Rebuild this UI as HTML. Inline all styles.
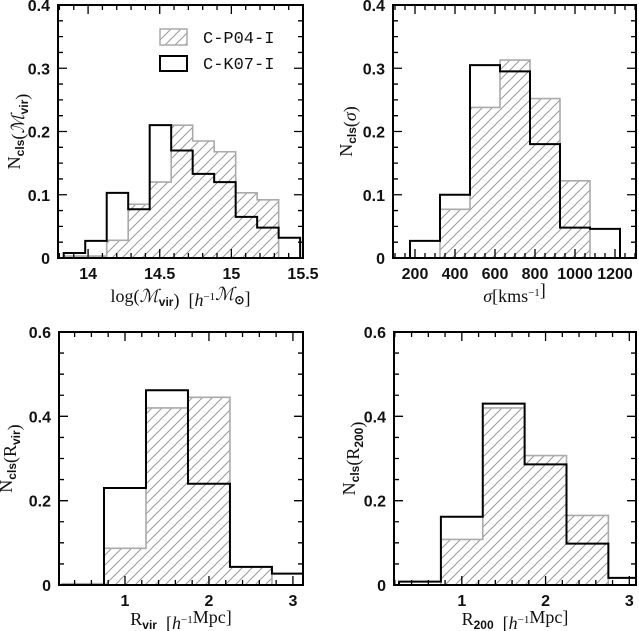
<!DOCTYPE html>
<html><head><meta charset="utf-8"><style>
html,body{margin:0;padding:0;background:#fff}
svg{display:block}
.tick{font-family:"Liberation Sans",sans-serif;font-size:16px;font-weight:bold;fill:#111}
.title{font-family:"Liberation Serif",serif;font-size:18px;fill:#111}
.leg{font-family:"Liberation Mono",monospace;font-size:17px;fill:#111}
</style></head><body>
<svg id="fig" width="639" height="631" viewBox="0 0 639 631" xmlns="http://www.w3.org/2000/svg">
<defs>
<pattern id="hatch" patternUnits="userSpaceOnUse" width="10" height="10">
<path d="M-2,12 L12,-2 M-2,2 L2,-2 M8,12 L12,8" stroke="#999" stroke-width="1"/>
</pattern>
</defs>
</svg>
<script>
// Panel 1: log(Mvir)
const massEdges=[13.83,13.98,14.13,14.28,14.43,14.58,14.73,14.88,15.03,15.18,15.33,15.48];
const massK07=[0.008,0.027,0.103,0.077,0.21,0.17,0.133,0.12,0.065,0.048,0.032];
const massP04=[0.003,0.003,0.028,0.085,0.12,0.21,0.185,0.168,0.103,0.092,0];
const massTicks=[14,14.5,15,15.5];
// Panel 2: sigma
const sigEdges=[175,325,475,625,775,925,1075,1225];
const sigK07=[0.027,0.1,0.305,0.295,0.18,0.048,0.046];
const sigP04=[0,0.077,0.238,0.313,0.252,0.122,0];
const sigTicks=[200,400,600,800,1000,1200];
// Panel 3: Rvir
const rvirEdges=[0.25,0.75,1.25,1.75,2.25,2.75,3.25];
const rvirK07=[0,0.23,0.462,0.24,0.043,0.027];
const rvirP04=[0.003,0.087,0.42,0.445,0.043,0];
// Panel 4: R200
const r200Edges=[0.25,0.75,1.25,1.75,2.25,2.75,3.25];
const r200K07=[0.008,0.162,0.43,0.286,0.098,0.017];
const r200P04=[0,0.108,0.42,0.307,0.165,0];
const rTicks=[1,2,3];
const yTicksTop=["0","0.1","0.2","0.3","0.4"];
const yTicksBot=["0","0.2","0.4","0.6"];

const NS="http://www.w3.org/2000/svg";
const svg=document.getElementById('fig');
function mk(tag,attrs,parent){const e=document.createElementNS(NS,tag);for(const k in attrs)e.setAttribute(k,attrs[k]);(parent||svg).appendChild(e);return e;}

function panel(o){
  const g=mk('g',{});
  
  
  const sx=v=>o.x0+(v-o.xmin)/(o.xmax-o.xmin)*(o.x1-o.x0);
  const sy=v=>o.y1-(v-0)/(o.ymax)*(o.y1-o.y0);
  const cid='clip-'+o.name;
  const cp=mk('clipPath',{id:cid},g);
  mk('rect',{x:o.x0,y:o.y0,width:o.x1-o.x0,height:o.y1-o.y0},cp);
  const data=mk('g',{'clip-path':'url(#'+cid+')'},g);
  o.p04.forEach((v,i)=>{
    if(v<=0)return;
    const r=mk('rect',{x:sx(o.edges[i]),y:sy(v),width:sx(o.edges[i+1])-sx(o.edges[i]),height:sy(0)-sy(v),fill:'url(#hatch)'},data);
    
    
  });
  function step(vals){
    let d='M'+sx(o.edges[0])+','+sy(0);
    vals.forEach((v,i)=>{d+=' L'+sx(o.edges[i])+','+sy(v)+' L'+sx(o.edges[i+1])+','+sy(v);});
    d+=' L'+sx(o.edges[vals.length])+','+sy(0);
    return d;
  }
  const gp=mk('path',{d:step(o.p04),fill:'none',stroke:'#aaa','stroke-width':1.6},data);
  
  
  const kp=mk('path',{d:step(o.k07),fill:'none',stroke:'#000','stroke-width':2},data);
  
  
  const fr=mk('rect',{x:o.x0,y:o.y0,width:o.x1-o.x0,height:o.y1-o.y0,fill:'none',stroke:'#000','stroke-width':2},g);
  
  
  let tk='';
  for(let v=Math.ceil(o.xmin/o.xminor-1e-9)*o.xminor;v<=o.xmax+1e-9;v+=o.xminor){
    const major=Math.abs(v/o.xmajor-Math.round(v/o.xmajor))<1e-6;const L=major?9:5;const X=sx(v);
    tk+='M'+X+','+o.y1+' v'+(-L)+' M'+X+','+o.y0+' v'+L+' ';
  }
  for(let v=0;v<=o.ymax+1e-9;v+=o.yminor){
    const major=Math.abs(v/o.ymajor-Math.round(v/o.ymajor))<1e-6;const L=major?9:5;const Y=sy(v);
    tk+='M'+o.x0+','+Y+' h'+L+' M'+o.x1+','+Y+' h'+(-L)+' ';
  }
  mk('path',{d:tk,stroke:'#000','stroke-width':1.3,fill:'none'},g);
  o.xticks.forEach(v=>{
    const t=mk('text',{x:sx(v),y:o.y1+21,'text-anchor':'middle',class:'tick'},g);t.textContent=String(v);
    
    
  });
  o.yticks.forEach(s=>{
    const t=mk('text',{x:o.x0-8,y:sy(parseFloat(s))+6,'text-anchor':'end',class:'tick'},g);t.textContent=s;
    
    
  });
  const xt=mk('text',{x:(o.x0+o.x1)/2,y:o.y1+o.xto,'text-anchor':'middle',class:'title'},g);
  xt.innerHTML=o.xtitle;
  
  
  const cy=(o.y0+o.y1)/2;
  const yt=mk('text',{x:o.ytx,y:cy,'text-anchor':'middle',class:'title',transform:'rotate(-90 '+o.ytx+' '+cy+')'},g);
  yt.innerHTML=o.ytitle;
  
  
}
const sub=s=>'<tspan font-size="12" font-family="Liberation Sans" font-weight="bold" dy="4">'+s+'</tspan><tspan dy="-4"></tspan>';
const sup=s=>'<tspan font-size="11" dy="-6">'+s+'</tspan><tspan dy="6"></tspan>';
panel({name:'mass-panel',x0:58,x1:303,y0:5,y1:258,xto:44,xmin:13.79,xmax:15.5,ymax:0.4,edges:massEdges,k07:massK07,p04:massP04,
  xticks:massTicks,yticks:yTicksTop,xminor:0.1,xmajor:0.5,yminor:0.025,ymajor:0.1,ytx:20,
  xtitle:'log(<tspan font-style="italic">ℳ</tspan>'+sub('vir')+')\u00a0\u00a0[<tspan font-style="italic">h</tspan>'+sup('−1')+'<tspan font-style="italic">ℳ</tspan>'+sub('⊙')+']',
  ytitle:'N'+sub('cls')+'(<tspan font-style="italic">ℳ</tspan>'+sub('vir')+')'});
panel({name:'sigma-panel',x0:393,x1:636,y0:5,y1:258,xto:44,xmin:90,xmax:1305,ymax:0.4,edges:sigEdges,k07:sigK07,p04:sigP04,
  xticks:sigTicks,yticks:yTicksTop,xminor:50,xmajor:200,yminor:0.025,ymajor:0.1,ytx:352,
  xtitle:'<tspan font-style="italic">σ</tspan>[kms'+sup('−1')+']',
  ytitle:'N'+sub('cls')+'(<tspan font-style="italic">σ</tspan>)'});
panel({name:'rvir-panel',x0:59,x1:303,y0:332,y1:585,xto:40,xmin:0.214,xmax:3.12,ymax:0.6,edges:rvirEdges,k07:rvirK07,p04:rvirP04,
  xticks:rTicks,yticks:yTicksBot,xminor:0.2,xmajor:1,yminor:0.05,ymajor:0.2,ytx:12,
  xtitle:'R'+sub('vir')+'\u00a0\u00a0[<tspan font-style="italic">h</tspan>'+sup('−1')+'Mpc]',
  ytitle:'N'+sub('cls')+'(R'+sub('vir')+')'});
panel({name:'r200-panel',x0:394,x1:636,y0:332,y1:585,xto:40,xmin:0.19,xmax:3.08,ymax:0.6,edges:r200Edges,k07:r200K07,p04:r200P04,
  xticks:rTicks,yticks:yTicksBot,xminor:0.2,xmajor:1,yminor:0.05,ymajor:0.2,ytx:355,
  xtitle:'R'+sub('200')+'\u00a0\u00a0[<tspan font-style="italic">h</tspan>'+sup('−1')+'Mpc]',
  ytitle:'N'+sub('cls')+'(R'+sub('200')+')'});
const lg=mk('g',{});


const b1=mk('rect',{x:160,y:29,width:27,height:16,fill:'url(#hatch)',stroke:'#aaa','stroke-width':1.5},lg);


const t1=mk('text',{x:203,y:43,class:'leg'},lg);t1.textContent='C-P04-I';


const b2=mk('rect',{x:160,y:56,width:27,height:15,fill:'none',stroke:'#000','stroke-width':2},lg);


const t2=mk('text',{x:203,y:69,class:'leg'},lg);t2.textContent='C-K07-I';


</script>
</body></html>
